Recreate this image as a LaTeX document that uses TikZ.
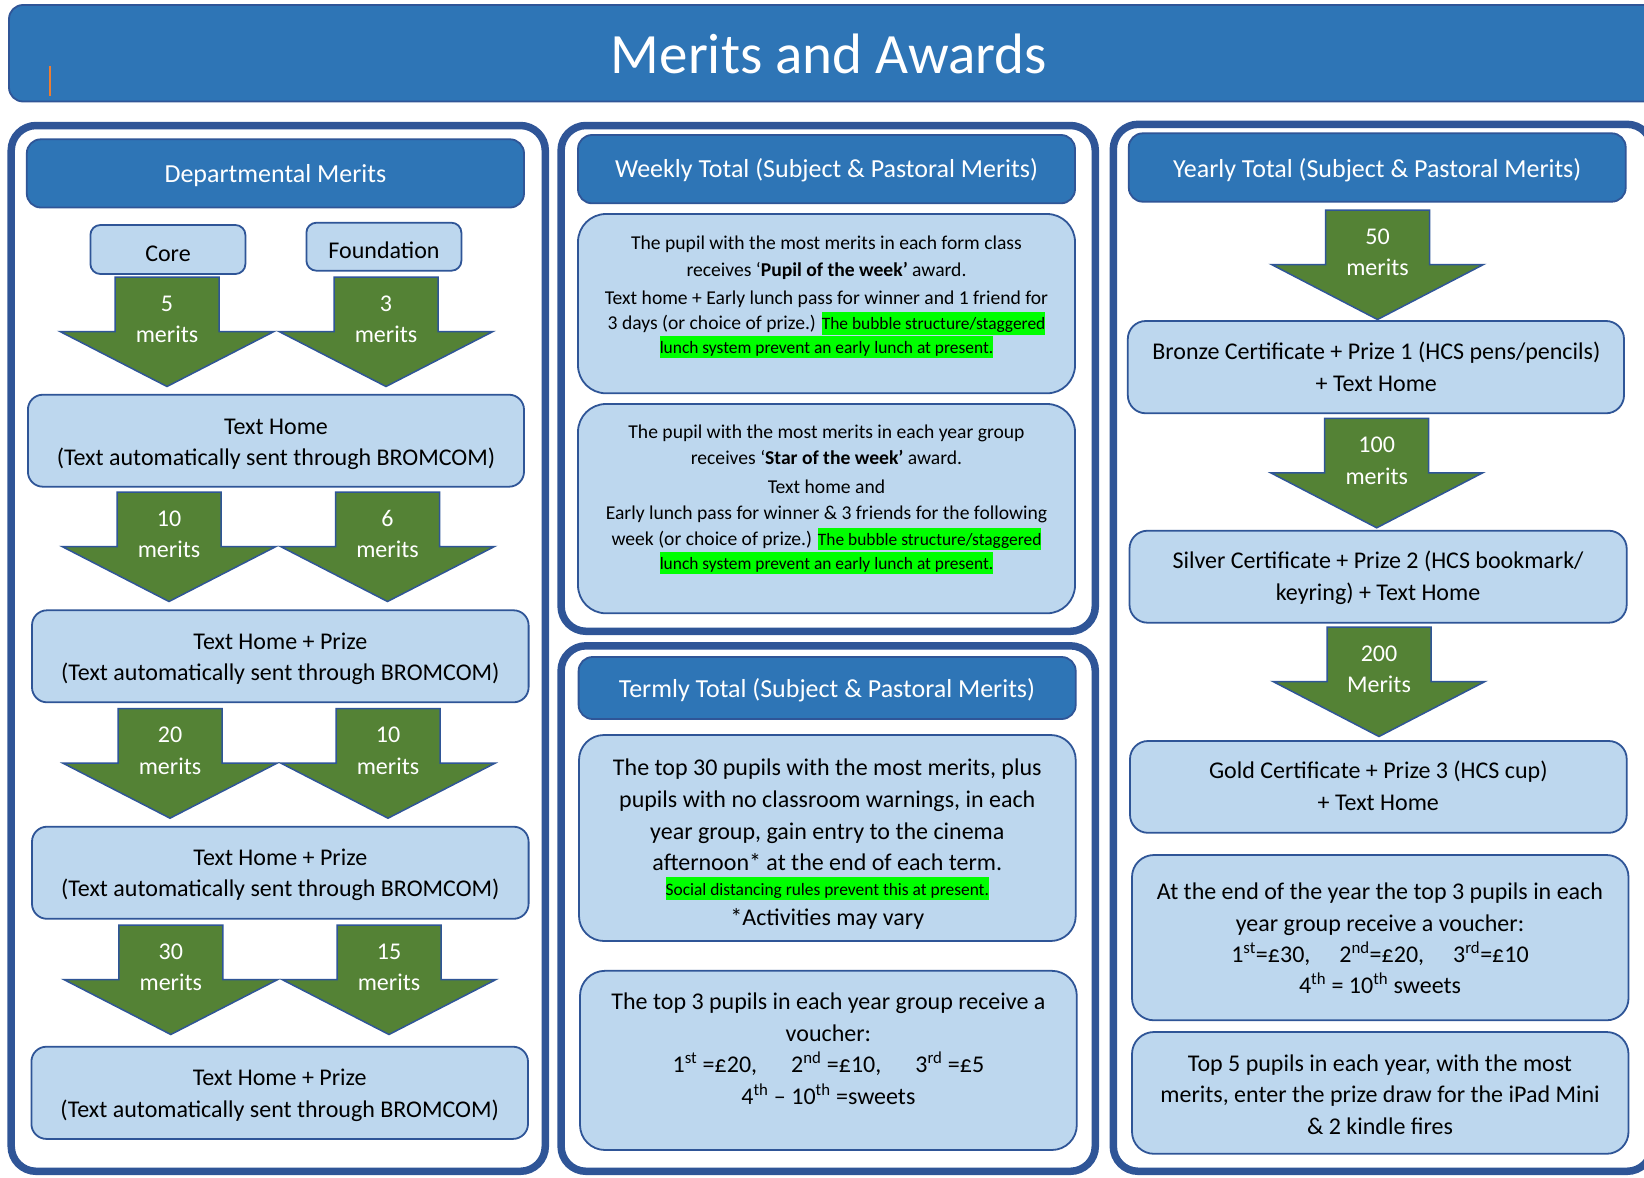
\documentclass[tikz,border=0pt]{standalone}
\usepackage{fontspec}
\setmainfont{Carlito}
\definecolor{frameblue}{HTML}{2F5597}
\definecolor{edgeblue}{HTML}{2F5597}
\definecolor{hdrblue}{HTML}{2E75B6}
\definecolor{lightblue}{HTML}{BDD7EE}
\definecolor{arrowgreen}{HTML}{548235}
\definecolor{hlgreen}{HTML}{00FF00}
\definecolor{cursororange}{HTML}{ED7D31}
\newcommand\hlg[1]{{\fontsize{17.4}{21}\selectfont\setlength{\fboxsep}{0pt}\colorbox{hlgreen}{\rule[-0.28em]{0pt}{1.3em}#1}}}
\tikzset{
  frame/.style={draw=frameblue, line width=7.5pt, rounded corners=25pt, fill=white},
  hdr/.style={draw=edgeblue, line width=1.8pt, fill=hdrblue, rounded corners=14pt},
  lbox/.style={draw=edgeblue, line width=1.8pt, fill=lightblue, rounded corners=15pt},
  garrow/.style={draw=edgeblue, line width=1.5pt, fill=arrowgreen, line join=miter},
  txt/.style={anchor=base, inner sep=0pt, yshift=-1.5pt, font=\fontsize{24}{29}\selectfont},
  wtxt/.style={txt, text=white},
  htxt/.style={anchor=base, inner sep=0pt, yshift=-1.5pt, text=white, font=\fontsize{26}{31}\selectfont},
  stxt/.style={anchor=base, inner sep=0pt, yshift=-1.5pt, font=\fontsize{19.6}{24}\selectfont},
}
% name, centre x, top y, number, word, head half width
\newcommand\marrow[6]{%
  \draw[garrow] (#2-52,#3) -- (#2+52,#3) -- (#2+52,#3+54.5) -- (#2+#6,#3+54.5)
    -- (#2,#3+109.5) -- (#2-#6,#3+54.5) -- (#2-52,#3+54.5) -- cycle;
  \node[wtxt] (#1n) at (#2,#3+32.5) {#4};
  \node[wtxt] (#1m) at (#2,#3+64.2) {#5};
}
\begin{document}
\begin{tikzpicture}[x=1pt,y=-1pt]
\useasboundingbox (0,0) rectangle (1644,1178);
\clip (0,0) rectangle (1644,1178);

% title banner
\draw[hdr, rounded corners=14pt] (9,5) rectangle (1680,101.5);
\node[anchor=base, inner sep=0pt, text=white, font=\fontsize{57}{60}\selectfont] (title) at (829,73.5) {Merits and Awards};
\draw[cursororange, line width=1.5pt] (50,66) -- (50,96);

% frames
\draw[frame] (11.2,125.5) rectangle (545.3,1171.3);
\draw[frame] (561.1,125.5) rectangle (1095.3,631.3);
\draw[frame] (561.1,645.8) rectangle (1095.3,1171.3);
\draw[frame] (1113.3,124.3) rectangle (1652,1171.3);

% ---------- column 1 ----------
\draw[hdr] (26.8,139.3) rectangle (524,207.5);
\node[htxt] (h1) at (275.4,181.1) {Departmental Merits};
\draw[lbox, rounded corners=10pt] (90.4,225) rectangle (245.4,274);
\node[txt] (core) at (168,259.9) {Core};
\draw[lbox, rounded corners=10pt] (306.4,222.7) rectangle (461.4,270.7);
\node[txt] (found) at (384,257.2) {Foundation};
\marrow{a1}{167}{277}{5}{merits}{107}
\marrow{a2}{386}{277}{3}{merits}{107}
\draw[lbox] (27.9,394.7) rectangle (524,486.7);
\node[txt] (b1a) at (276,432.6) {Text Home};
\node[txt] (b1b) at (276,464.1) {(Text automatically sent through BROMCOM)};
\marrow{a3}{169}{492}{10}{merits}{107}
\marrow{a4}{387.5}{492}{6}{merits}{107}
\draw[lbox] (32,610.3) rectangle (528.6,702.3);
\node[txt] (b2a) at (280.3,647.7) {Text Home + Prize};
\node[txt] (b2b) at (280.3,679.2) {(Text automatically sent through BROMCOM)};
\marrow{a5}{170}{708.7}{20}{merits}{107}
\marrow{a6}{388}{708.7}{10}{merits}{107}
\draw[lbox] (32,826.7) rectangle (528.6,918.8);
\node[txt] (b3a) at (280.3,863.7) {Text Home + Prize};
\node[txt] (b3b) at (280.3,895.2) {(Text automatically sent through BROMCOM)};
\marrow{a7}{170.8}{925}{30}{merits}{107}
\marrow{a8}{389}{925}{15}{merits}{107}
\draw[lbox] (31.4,1046.7) rectangle (528,1138.9);
\node[txt] (b4a) at (279.7,1084.3) {Text Home + Prize};
\node[txt] (b4b) at (279.7,1115.8) {(Text automatically sent through BROMCOM)};

% ---------- column 2 ----------
\draw[hdr] (578,135) rectangle (1075,203.3);
\node[htxt] (h2) at (826.5,176.1) {Weekly Total (Subject \& Pastoral Merits)};
\draw[lbox, rounded corners=28pt] (578,214) rectangle (1075,393.3);
\node[stxt] (w1a) at (826.5,248.2) {The pupil with the most merits in each form class};
\node[stxt] (w1b) at (826.5,274.9) {receives ‘\textbf{Pupil of the week’} award.};
\node[stxt] (w1c) at (826.5,302.6) {Text home + Early lunch pass for winner and 1 friend for};
\node[stxt] (w1d) at (826.5,328.4) {3 days (or choice of prize.) \hlg{The bubble structure/staggered}};
\node[stxt] (w1e) at (826.5,351.8) {\hlg{lunch system prevent an early lunch at present.}};
\draw[lbox, rounded corners=28pt] (578,404) rectangle (1075,613.3);
\node[stxt] (w2a) at (826.5,436.6) {The pupil with the most merits in each year group};
\node[stxt] (w2b) at (826.5,463.2) {receives ‘\textbf{Star of the week’} award.};
\node[stxt] (w2c) at (826.5,491.6) {Text home and};
\node[stxt] (w2d) at (826.5,517.6) {Early lunch pass for winner \& 3 friends for the following};
\node[stxt] (w2e) at (826.5,544.1) {week (or choice of prize.) \hlg{The bubble structure/staggered}};
\node[stxt] (w2f) at (826.5,567.8) {\hlg{lunch system prevent an early lunch at present.}};

\draw[hdr] (578.6,657) rectangle (1075.7,719);
\node[htxt] (h3) at (827,695.5) {Termly Total (Subject \& Pastoral Merits)};
\draw[lbox, rounded corners=25pt] (579,735) rectangle (1075.7,941);
\node[txt] (t1a) at (827.3,773.5) {The top 30 pupils with the most merits, plus};
\node[txt] (t1b) at (827.3,806) {pupils with no classroom warnings, in each};
\node[txt] (t1c) at (827.3,837.5) {year group, gain entry to the cinema};
\node[txt] (t1d) at (827.3,868.6) {afternoon* at the end of each term.};
\node[txt] (t1e) at (827.3,893.5) {\hlg{Social distancing rules prevent this at present.}};
\node[txt] (t1f) at (827.3,923.8) {*Activities may vary};
\draw[lbox, rounded corners=25pt] (580,970.8) rectangle (1076.8,1150);
\node[txt] (t2a) at (828.4,1008.2) {The top 3 pupils in each year group receive a};
\node[txt] (t2b) at (828.4,1039.8) {voucher:};
\node[txt] (t2c) at (828.4,1071.2) {1\textsuperscript{st} =£20,\hspace{34pt}2\textsuperscript{nd} =£10,\hspace{34pt}3\textsuperscript{rd} =£5};
\node[txt] (t2d) at (828.4,1102.8) {4\textsuperscript{th} – 10\textsuperscript{th} =sweets};

% ---------- column 3 ----------
\draw[hdr] (1128.8,133.3) rectangle (1625.7,201.7);
\node[htxt] (h4) at (1377.2,175.5) {Yearly Total (Subject \& Pastoral Merits)};
\marrow{y1}{1377.5}{210}{50}{merits}{106}
\draw[lbox, rounded corners=18pt] (1127.8,321) rectangle (1624,413.3);
\node[txt] (bra) at (1376.3,358.2) {Bronze Certificate + Prize 1 (HCS pens/pencils)};
\node[txt] (brb) at (1376.3,389.5) {+ Text Home};
\marrow{y2}{1376.7}{418.3}{100}{merits}{106}
\draw[lbox, rounded corners=18pt] (1129.5,530.7) rectangle (1626.7,622.7);
\node[txt] (sia) at (1378,567.2) {Silver Certificate + Prize 2 (HCS bookmark/};
\node[txt] (sib) at (1378,598.9) {keyring) + Text Home};
\marrow{y3}{1379}{627}{200}{Merits}{106}
\draw[lbox, rounded corners=18pt] (1130,741) rectangle (1626.7,832.8);
\node[txt] (goa) at (1378.3,776.7) {Gold Certificate + Prize 3 (HCS cup)};
\node[txt] (gob) at (1378.3,809.4) {+ Text Home};
\draw[lbox, rounded corners=22pt] (1132,855) rectangle (1628.5,1020.3);
\node[txt] (eya) at (1380,897.7) {At the end of the year the top 3 pupils in each};
\node[txt] (eyb) at (1380,929.7) {year group receive a voucher:};
\node[txt] (eyc) at (1380,960.7) {1\textsuperscript{st}=£30,\hspace{29pt}2\textsuperscript{nd}=£20,\hspace{29pt}3\textsuperscript{rd}=£10};
\node[txt] (eyd) at (1380,992) {4\textsuperscript{th} = 10\textsuperscript{th} sweets};
\draw[lbox, rounded corners=22pt] (1132,1032) rectangle (1628.5,1153.8);
\node[txt] (tpa) at (1380,1069.5) {Top 5 pupils in each year, with the most};
\node[txt] (tpb) at (1380,1101.2) {merits, enter the prize draw for the iPad Mini};
\node[txt] (tpc) at (1380,1132.5) {\& 2 kindle fires};
\end{tikzpicture}
\end{document}
